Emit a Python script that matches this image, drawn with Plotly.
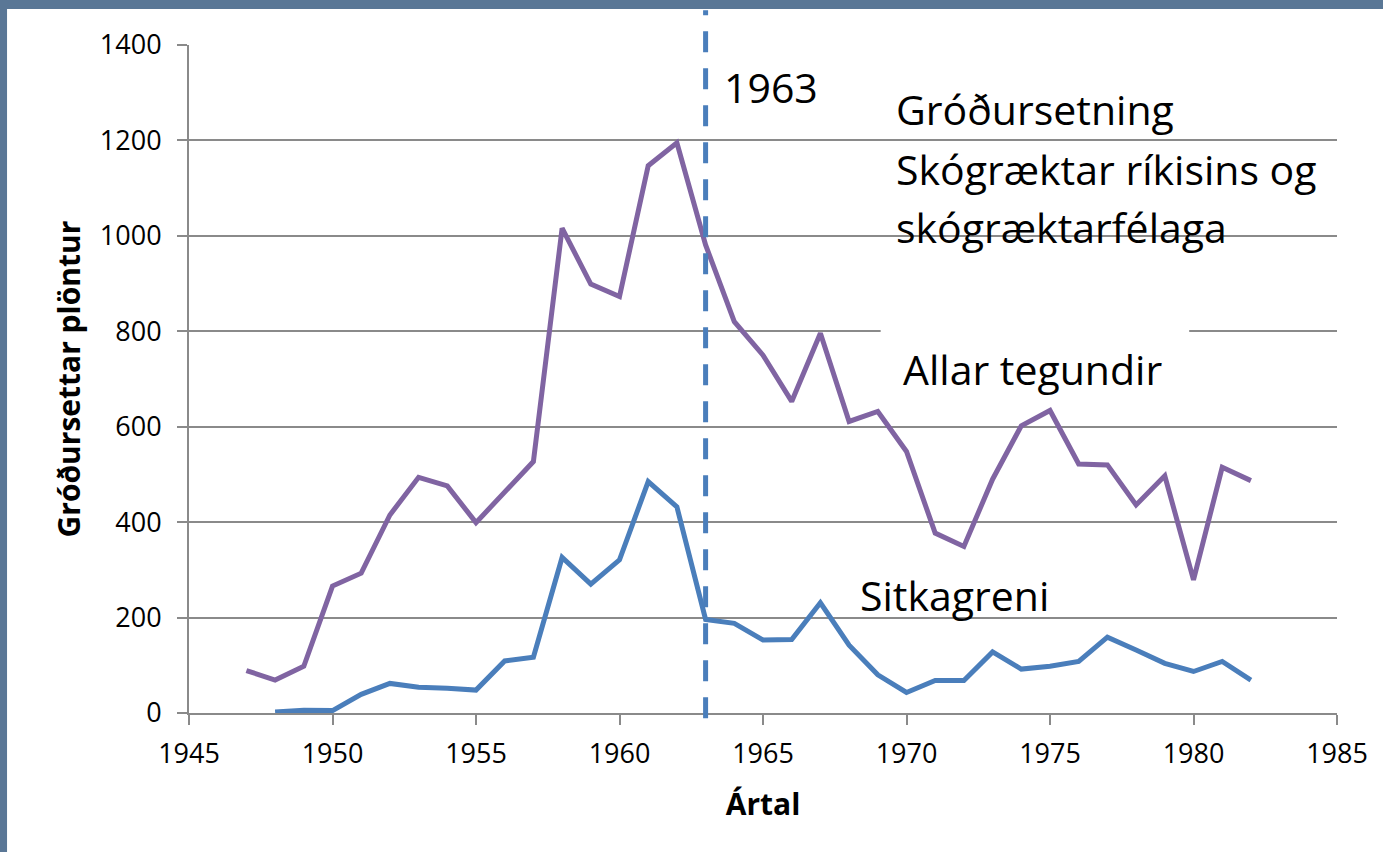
import plotly.graph_objects as go

years_all = list(range(1947, 1983))
allar = [89, 69, 98, 266, 293, 415, 494, 476, 399, 463, 527, 1016, 899, 873, 1147, 1195,
         981, 820, 750, 653, 796, 611, 632, 548, 377, 349, 490, 602, 634, 522, 520, 436,
         497, 279, 515, 487]

years_sitka = list(range(1948, 1983))
sitka = [2, 6, 5, 39, 62, 54, 52, 48, 109, 117, 326, 270, 321, 485, 432, 196, 188, 153,
         154, 231, 142, 80, 43, 68, 68, 128, 92, 98, 108, 159, 132, 104, 87, 108, 69]

x_ticks = [1945, 1950, 1955, 1960, 1965, 1970, 1975, 1980, 1985]
y_ticks = [0, 200, 400, 600, 800, 1000, 1200, 1400]
marker_year = 1963

PURPLE = "#8064a2"
BLUE = "#4a7ebb"
GRID = "#8a8a8a"
FONT = "Open Sans"

fig = go.Figure()
fig.add_trace(go.Scatter(x=years_all, y=allar, mode="lines",
                         line=dict(color=PURPLE, width=5), showlegend=False))
fig.add_trace(go.Scatter(x=years_sitka, y=sitka, mode="lines",
                         line=dict(color=BLUE, width=5), showlegend=False))

# white slide area over the textured frame colour
fig.add_shape(type="rect", xref="paper", yref="paper", x0=-0.1585, x1=1.3,
              y0=-0.5, y1=1.0539, fillcolor="white", line_width=0, layer="below")
# white box hiding part of the 800 gridline
fig.add_shape(type="rect", xref="x", yref="y", x0=1969.1, x1=1979.85, y0=780, y1=820,
              fillcolor="white", line_width=0, layer="between")
# dashed 1963 line
fig.add_shape(type="line", xref="x", yref="paper", x0=marker_year, x1=marker_year,
              y0=-0.008, y1=1.052, line=dict(color=BLUE, width=5, dash="21px,16px"))

txt = dict(color="black", family=FONT)
fig.add_annotation(x=1963.57, y=1312, xref="x", yref="y", text="1963", showarrow=False,
                   xanchor="left", yanchor="middle", font=dict(size=41, **txt))
for label, yv in [("Gróðursetning", 1265), ("Skógræktar ríkisins og", 1140),
                  ("skógræktarfélaga", 1018)]:
    fig.add_annotation(x=1969.55, y=yv, xref="x", yref="y", text=label, showarrow=False,
                       xanchor="left", yanchor="middle", font=dict(size=41, **txt))
fig.add_annotation(x=1969.8, y=720, xref="x", yref="y", text="Allar tegundir",
                   showarrow=False, xanchor="left", yanchor="middle",
                   font=dict(size=41, **txt))
fig.add_annotation(x=1968.3, y=247, xref="x", yref="y", text="Sitkagreni",
                   showarrow=False, xanchor="left", yanchor="middle",
                   font=dict(size=41, **txt))

fig.update_xaxes(range=[1945, 1985], tickvals=x_ticks, ticks="outside", ticklen=10,
                 tickwidth=2, tickcolor=GRID, showline=True, linecolor=GRID, linewidth=2,
                 showgrid=False, zeroline=False, ticklabelstandoff=6,
                 tickfont=dict(size=27, color="black", family=FONT),
                 title=dict(text="<b>Ártal</b>", font=dict(size=30, color="black", family=FONT),
                            standoff=24))
fig.update_yaxes(range=[0, 1400], tickvals=y_ticks, ticks="outside", ticklen=10,
                 tickwidth=2, tickcolor=GRID, showline=True, linecolor=GRID, linewidth=2,
                 showgrid=True, gridcolor=GRID, gridwidth=2, zeroline=False,
                 ticklabelstandoff=10,
                 tickfont=dict(size=27, color="black", family=FONT),
                 title=dict(text="<b>Gróðursettar plöntur</b>",
                            font=dict(size=30, color="black", family=FONT), standoff=10))

fig.update_layout(width=1383, height=852, margin=dict(l=189, r=46, t=45, b=139),
                  paper_bgcolor="#5a7796", plot_bgcolor="rgba(0,0,0,0)",
                  showlegend=False)

fig.write_html("out.html", config={"displayModeBar": False},
               post_script="document.body.style.margin='0';document.body.style.overflow='hidden';")
